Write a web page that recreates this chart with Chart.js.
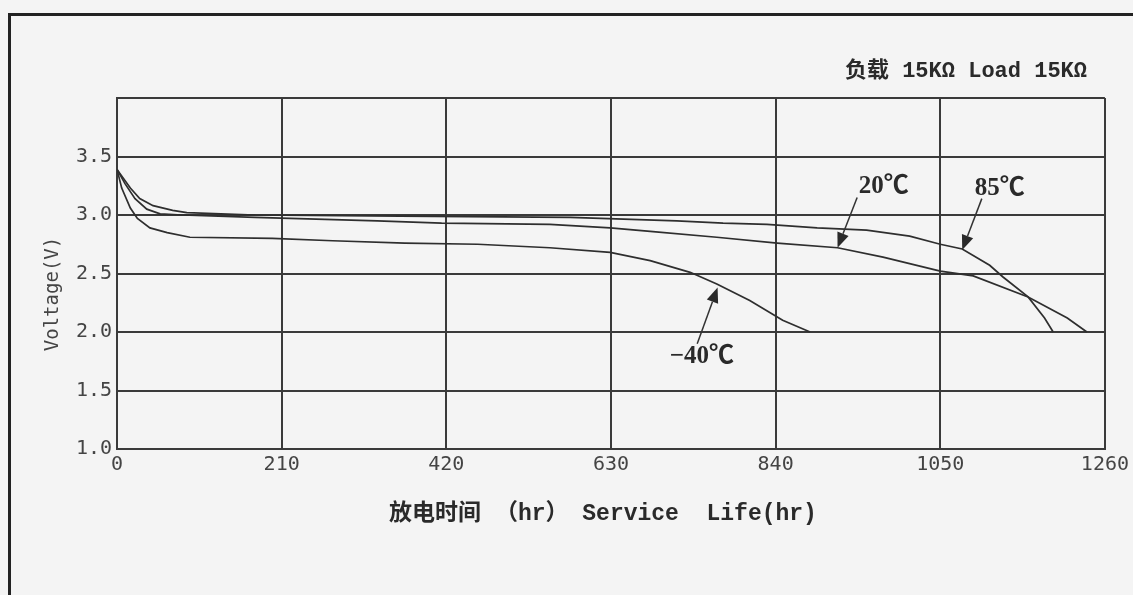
<!DOCTYPE html>
<html>
<head>
<meta charset="utf-8">
<script src="https://cdn.jsdelivr.net/npm/chart.js@4.4.1/dist/chart.umd.min.js"></script>
<style>
  html, body { margin: 0; padding: 0; background: #f4f4f4; overflow: hidden; }
  #frame { position: absolute; left: 8px; top: 13px; width: 2000px; height: 2000px;
           border-top: 3px solid #222; border-left: 3px solid #222; background: #f4f4f4; }
  #wrap { position: absolute; left: 0; top: 0; width: 1133px; height: 595px; }
</style>
</head>
<body>
<div id="frame"></div>
<div id="wrap"><canvas id="c" width="1133" height="595"></canvas></div>
<script>
// ---- Data ----
const xTickValues = [0, 210, 420, 630, 840, 1050, 1260];
const yTickValues = [1.0, 1.5, 2.0, 2.5, 3.0, 3.5];

const minus40Hours = [0, 6, 17, 26, 42, 64, 93, 198, 275, 367, 460, 552, 629, 680, 731, 765, 807, 849, 884];
const minus40Volts = [3.39, 3.23, 3.06, 2.97, 2.89, 2.85, 2.81, 2.80, 2.78, 2.76, 2.75, 2.72, 2.68, 2.61, 2.51, 2.41, 2.27, 2.10, 2.00];

const plus20Hours = [0, 10, 23, 38, 55, 83, 176, 332, 414, 552, 629, 680, 765, 842, 919, 977, 1050, 1092, 1162, 1212, 1237];
const plus20Volts = [3.39, 3.27, 3.14, 3.05, 3.01, 3.00, 2.98, 2.95, 2.93, 2.92, 2.89, 2.86, 2.81, 2.76, 2.72, 2.64, 2.52, 2.48, 2.30, 2.12, 2.00];

const plus85Hours = [0, 17, 29, 46, 71, 89, 176, 361, 578, 714, 773, 829, 893, 956, 1011, 1050, 1078, 1113, 1130, 1162, 1183, 1194];
const plus85Volts = [3.39, 3.23, 3.14, 3.08, 3.04, 3.02, 3.00, 2.99, 2.98, 2.95, 2.93, 2.92, 2.89, 2.87, 2.82, 2.75, 2.71, 2.57, 2.47, 2.30, 2.12, 2.00];

// annotation labels and arrows (data units)
const noteTexts = ['20℃', '85℃', '−40℃'];
const noteHours = [978, 1126, 746];
const noteVolts = [3.24, 3.23, 1.79];
const arrowFromHours = [944, 1103, 740];
const arrowFromVolts = [3.15, 3.14, 1.90];
const arrowToHours = [919, 1078, 766];
const arrowToVolts = [2.72, 2.70, 2.38];

const chartTitle = '负载 15KΩ Load 15KΩ';
const xTitle = '放电时间 （hr） Service  Life(hr)';
const yTitle = 'Voltage(V)';

function pts(xs, ys) { return xs.map((v, i) => ({ x: v, y: ys[i] })); }

const lineColor = '#2e2e2e';
const gridColor = '#3a3a3a';

const overlay = {
  id: 'overlay',
  afterDatasetsDraw(chart) {
    const { ctx, scales: { x, y } } = chart;
    ctx.save();
    ctx.strokeStyle = '#333';
    ctx.fillStyle = '#2a2a2a';
    ctx.lineWidth = 1.5;
    for (let i = 0; i < noteTexts.length; i++) {
      const x1 = x.getPixelForValue(arrowFromHours[i]);
      const y1 = y.getPixelForValue(arrowFromVolts[i]);
      const x2 = x.getPixelForValue(arrowToHours[i]);
      const y2 = y.getPixelForValue(arrowToVolts[i]);
      const a = Math.atan2(y2 - y1, x2 - x1);
      const hl = 15, hw = 6;
      const bx = x2 - Math.cos(a) * hl, by = y2 - Math.sin(a) * hl;
      ctx.beginPath();
      ctx.moveTo(x1, y1);
      ctx.lineTo(bx, by);
      ctx.stroke();
      ctx.beginPath();
      ctx.moveTo(x2, y2);
      ctx.lineTo(bx + Math.sin(a) * hw, by - Math.cos(a) * hw);
      ctx.lineTo(bx - Math.sin(a) * hw, by + Math.cos(a) * hw);
      ctx.closePath();
      ctx.fill();
      ctx.font = "bold 25px 'Liberation Serif', 'Noto Sans CJK SC'";
      ctx.textAlign = 'center';
      ctx.textBaseline = 'middle';
      ctx.fillText(noteTexts[i], x.getPixelForValue(noteHours[i]), y.getPixelForValue(noteVolts[i]));
    }
    // chart title (top right)
    ctx.fillStyle = '#2a2a2a';
    ctx.font = "bold 22px 'Liberation Mono', 'Noto Sans CJK SC'";
    ctx.textAlign = 'right';
    ctx.textBaseline = 'middle';
    ctx.fillText(chartTitle, 1087, 71);
    // x axis title
    ctx.font = "bold 23px 'Liberation Mono', 'Noto Sans CJK SC'";
    ctx.textAlign = 'center';
    ctx.fillText(xTitle, 603, 514);
    // y axis title
    ctx.translate(53, 294);
    ctx.rotate(-Math.PI / 2);
    ctx.fillStyle = '#444';
    ctx.font = "19px 'DejaVu Sans Mono'";
    ctx.fillText(yTitle, 0, 0);
    ctx.restore();
  }
};

const ds = (label, xs, ys) => ({
  label, data: pts(xs, ys), borderColor: lineColor, borderWidth: 1.7,
  pointRadius: 0, tension: 0, fill: false
});

new Chart(document.getElementById('c'), {
  type: 'line',
  data: {
    datasets: [
      ds('-40℃', minus40Hours, minus40Volts),
      ds('20℃', plus20Hours, plus20Volts),
      ds('85℃', plus85Hours, plus85Volts)
    ]
  },
  options: {
    responsive: false,
    animation: false,
    devicePixelRatio: 1,
    layout: { padding: { left: 0, top: 98, right: 28, bottom: 0 } },
    plugins: { legend: { display: false }, tooltip: { enabled: false } },
    scales: {
      x: {
        type: 'linear', min: 0, max: 1260,
        afterFit(s) { s.height = 146; },
        afterBuildTicks(s) { s.ticks = xTickValues.map(v => ({ value: v })); },
        grid: { color: gridColor, lineWidth: 2, drawTicks: false },
        border: { color: gridColor, width: 2 },
        ticks: { color: '#444', padding: 4, maxRotation: 0, autoSkip: false,
                 font: { family: 'DejaVu Sans Mono', size: 20 },
                 callback: v => String(v) }
      },
      y: {
        type: 'linear', min: 1.0, max: 4.0,
        afterFit(s) { s.width = 117; },
        afterBuildTicks(s) { s.ticks = yTickValues.concat([4.0]).map(v => ({ value: v })); },
        grid: { color: gridColor, lineWidth: 2, drawTicks: false },
        border: { color: gridColor, width: 2 },
        ticks: { color: '#444', padding: 5, autoSkip: false,
                 font: { family: 'DejaVu Sans Mono', size: 20 },
                 callback: v => (yTickValues.includes(v) ? v.toFixed(1) : '') }
      }
    }
  },
  plugins: [overlay]
});
</script>
</body>
</html>
